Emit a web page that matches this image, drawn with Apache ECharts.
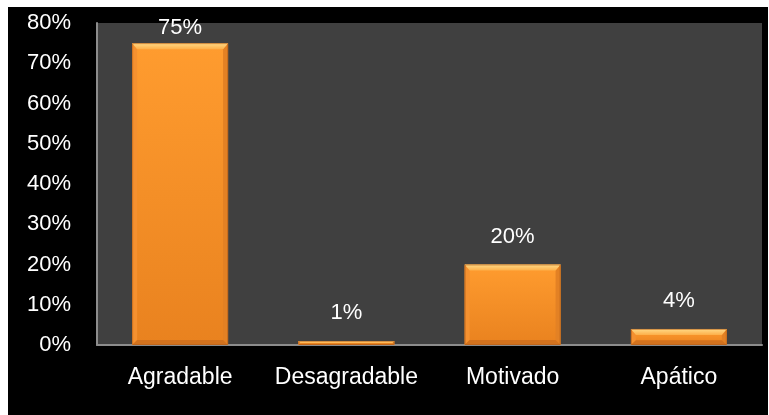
<!DOCTYPE html>
<html>
<head>
<meta charset="utf-8">
<script src="https://cdn.jsdelivr.net/npm/echarts@6/dist/echarts.min.js"></script>
<style>
  html, body { margin: 0; padding: 0; background: #ffffff; }
  #wrap { position: relative; width: 769px; height: 415px; background: #ffffff; overflow: hidden; }
  #chart { position: absolute; left: 8px; top: 7px; width: 760px; height: 408px; background: #000000; }
</style>
</head>
<body>
<div id="wrap"><div id="chart"></div></div>
<script>
// Survey answers (percent of respondents)
const categories = ['Agradable', 'Desagradable', 'Motivado', 'Apático'];
const percentValues = [75, 1, 20, 4];
const yTicks = [0, 10, 20, 30, 40, 50, 60, 70, 80];

const FONT = '"Liberation Sans", Arial, sans-serif';

// Bevelled bar: front face plus four sloped edge faces and a value label above
function renderBevelBar(params, api) {
  const idx = api.value(0);
  const val = api.value(1);
  const top = api.coord([idx, val]);
  const base = api.coord([idx, 0]);
  const plotTop = api.coord([idx, yTicks[yTicks.length - 1]])[1];
  const bandW = api.size([1, 0])[0];
  const w = bandW * 0.577;
  const x0 = top[0] - w / 2, x1 = top[0] + w / 2;
  const y0 = top[1], y1 = base[1];
  const h = y1 - y0;
  const bt = Math.min(6, h * 0.5);
  const bs = Math.min(5, w / 4, h * 0.5);
  const bb = Math.min(5, h * 0.3);

  const vGrad = (c0, c1) => new echarts.graphic.LinearGradient(0, 0, 0, 1, [
    { offset: 0, color: c0 }, { offset: 1, color: c1 }
  ]);

  const children = [
    { type: 'rect', shape: { x: x0, y: y0, width: w, height: h },
      style: { fill: vGrad('#FF9C2F', '#E9821F') } },
    { type: 'polygon', shape: { points: [[x0, y0], [x0 + bs, y0 + bt], [x0 + bs, y1 - bb], [x0, y1]] },
      style: { fill: '#F59130' } },
    { type: 'polygon', shape: { points: [[x1, y0], [x1, y1], [x1 - bs, y1 - bb], [x1 - bs, y0 + bt]] },
      style: { fill: '#E38124' } },
    { type: 'polygon', shape: { points: [[x0, y1], [x0 + bs, y1 - bb], [x1 - bs, y1 - bb], [x1, y1]] },
      style: { fill: '#D2721E' } },
    { type: 'polygon', shape: { points: [[x0, y0], [x1, y0], [x1 - bs, y0 + bt], [x0 + bs, y0 + bt]] },
      style: { fill: vGrad('#FFDB88', '#FDB04A') } },
    { type: 'rect', shape: { x: x0 + 0.5, y: y0 + 0.5, width: w - 1, height: Math.max(h - 1, 0) },
      style: { fill: null, stroke: 'rgba(180,95,25,0.6)', lineWidth: 1 } }
  ];

  // value label sits above the bar, kept inside the plot area
  const labelY = Math.max(y0 - 28, plotTop + 5);
  children.push({
    type: 'text',
    style: {
      text: val + '%', x: top[0], y: labelY,
      fill: '#ffffff', font: '22px ' + FONT,
      textAlign: 'center', textVerticalAlign: 'middle'
    },
    z2: 10
  });

  return { type: 'group', children: children };
}

const chart = echarts.init(document.getElementById('chart'), null, { renderer: 'canvas' });
chart.setOption({
  backgroundColor: '#000000',
  animation: false,
  grid: {
    left: 89, right: 6, top: 16, bottom: 70,
    show: true, backgroundColor: '#404040', borderWidth: 0
  },
  xAxis: {
    type: 'category',
    data: categories,
    axisLine: { show: true, lineStyle: { color: '#8C8C8C', width: 2 } },
    axisTick: { show: false },
    axisLabel: { color: '#ffffff', fontSize: 23, fontFamily: FONT, margin: 21, interval: 0 },
    splitLine: { show: false }
  },
  yAxis: {
    type: 'value',
    min: yTicks[0], max: yTicks[yTicks.length - 1], interval: 10,
    axisLine: { show: true, lineStyle: { color: '#8C8C8C', width: 2 } },
    axisTick: { show: false },
    splitLine: { show: false },
    axisLabel: { color: '#ffffff', fontSize: 22, fontFamily: FONT, margin: 26, formatter: '{value}%' }
  },
  series: [{
    type: 'custom',
    renderItem: renderBevelBar,
    data: percentValues.map((v, i) => [i, v]),
    encode: { x: 0, y: 1 },
    clip: false
  }]
});
</script>
</body>
</html>
